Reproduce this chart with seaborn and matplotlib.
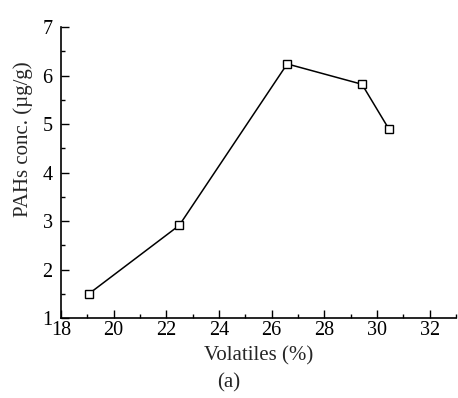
import matplotlib
matplotlib.use("Agg")
import matplotlib.pyplot as plt
import seaborn as sns
import pandas as pd
from matplotlib.ticker import MultipleLocator

volatiles = [19.06, 22.49, 26.59, 29.43, 30.46]
pahs = [1.50, 2.91, 6.24, 5.82, 4.89]

sns.set_style("ticks")
plt.rcParams["font.family"] = ["Liberation Serif", "DejaVu Serif"]

df = pd.DataFrame({"Volatiles": volatiles, "PAHs": pahs})

fig = plt.figure(figsize=(4.58, 3.98), dpi=100)
ax = fig.add_axes([0.1332, 0.201, 0.8624, 0.731])
sns.lineplot(data=df, x="Volatiles", y="PAHs", ax=ax, color="black", linewidth=1.1,
             marker="s", markersize=6, markerfacecolor="white", markeredgecolor="black",
             markeredgewidth=1.0, sort=False)

ax.set_xlim(18, 33)
ax.set_ylim(1, 7)
ax.xaxis.set_minor_locator(MultipleLocator(1))
ax.yaxis.set_major_locator(MultipleLocator(1))
ax.yaxis.set_minor_locator(MultipleLocator(0.5))
ax.set_xticks([18, 20, 22, 24, 26, 28, 30, 32])
ax.tick_params(which="both", direction="in", width=1.0, colors="black", labelsize=14.5)
ax.tick_params(which="major", length=6)
ax.tick_params(which="minor", length=3)
ax.tick_params(axis="y", which="major", pad=6)
ax.tick_params(axis="x", which="major", pad=2)
sns.despine(ax=ax)
for s in ["left", "bottom"]:
    ax.spines[s].set_linewidth(1.2)
    ax.spines[s].set_color("black")

ax.set_xlabel("Volatiles (%)", fontsize=15, labelpad=5)
ax.set_ylabel("PAHs conc. (µg/g)", fontsize=15)
ax.yaxis.set_label_coords(-0.071, 0.615)
fig.text(0.5, 0.038, "(a)", ha="center", va="center", fontsize=15)

fig.savefig("out.png", dpi=100)
